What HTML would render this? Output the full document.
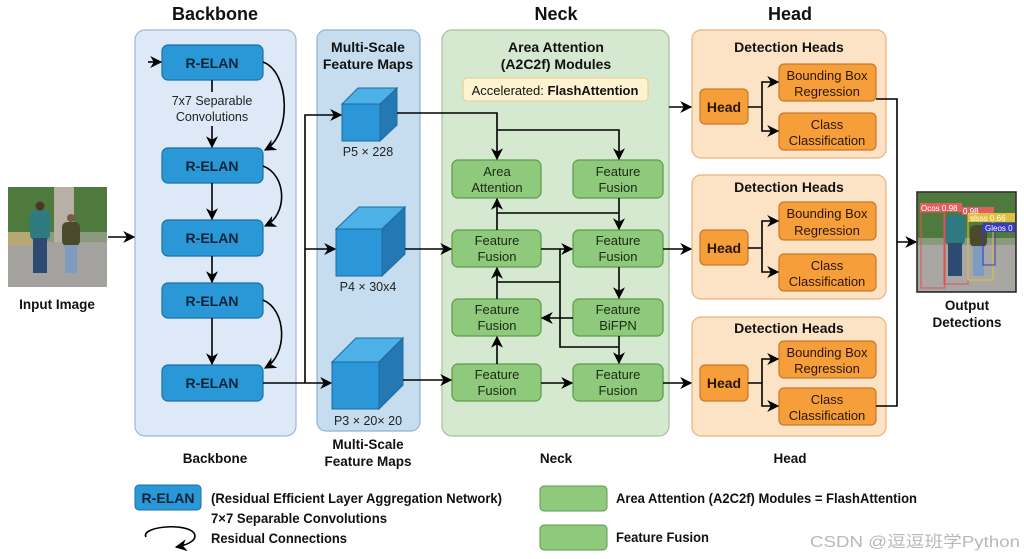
<!DOCTYPE html>
<html><head><meta charset="utf-8"><style>
html,body{margin:0;padding:0;background:#fff;width:1024px;height:559px;overflow:hidden}
svg{display:block}
text{font-family:"Liberation Sans","Noto Sans CJK SC",sans-serif}
</style></head><body>
<svg width="1024" height="559" viewBox="0 0 1024 559" xmlns="http://www.w3.org/2000/svg">
<defs>
<marker id="b" viewBox="0 0 10 10" refX="9" refY="5" markerWidth="12" markerHeight="12" orient="auto" markerUnits="userSpaceOnUse"><path d="M0,0 L10,5 L0,10 L3,5 z" fill="#000"/></marker>
</defs>
<rect width="1024" height="559" fill="#fff"/>
<g font-weight="bold" text-anchor="middle" fill="#111">
<text x="215" y="20" font-size="18">Backbone</text>
<text x="556" y="20" font-size="18">Neck</text>
<text x="790" y="20" font-size="18">Head</text>
</g>
<rect x="135" y="30" width="161" height="406" rx="10" fill="#dde9f6" stroke="#9db7d6" stroke-width="1.2"/>
<rect x="317" y="30" width="103" height="401" rx="9" fill="#c5ddef" stroke="#8fb3d2" stroke-width="1.2"/>
<rect x="442" y="30" width="227" height="406" rx="10" fill="#d5e8d0" stroke="#9fc596" stroke-width="1.2"/>
<rect x="692" y="30" width="194" height="128" rx="9" fill="#fde3c6" stroke="#e8b27a" stroke-width="1.2"/>
<rect x="692" y="175" width="194" height="124" rx="9" fill="#fde3c6" stroke="#e8b27a" stroke-width="1.2"/>
<rect x="692" y="317" width="194" height="119" rx="9" fill="#fde3c6" stroke="#e8b27a" stroke-width="1.2"/>
<g font-weight="bold" text-anchor="middle" fill="#111" font-size="14">
<text x="368" y="52">Multi-Scale</text><text x="368" y="69">Feature Maps</text>
<text x="556" y="52">Area Attention</text><text x="556" y="69">(A2C2f) Modules</text>
<text x="789" y="52">Detection Heads</text>
<text x="789" y="192">Detection Heads</text>
<text x="789" y="333">Detection Heads</text>
</g>
<rect x="463" y="78" width="185" height="23" rx="4" fill="#fdf3d0" stroke="#e6cc86"/>
<text x="555" y="95" text-anchor="middle" font-size="13" fill="#111">Accelerated: <tspan font-weight="bold">FlashAttention</tspan></text>
<g fill="#2a97d6" stroke="#1a6fa6" stroke-width="1.2">
<rect x="162" y="45" width="101" height="35" rx="6"/>
<rect x="162" y="148" width="101" height="35" rx="6"/>
<rect x="162" y="220" width="101" height="36" rx="6"/>
<rect x="162" y="283" width="101" height="35" rx="6"/>
<rect x="162" y="365" width="101" height="36" rx="6"/>
</g>
<g font-weight="bold" text-anchor="middle" fill="#0d2438" font-size="14">
<text x="212" y="68">R-ELAN</text><text x="212" y="171">R-ELAN</text><text x="212" y="243">R-ELAN</text><text x="212" y="306">R-ELAN</text><text x="212" y="388">R-ELAN</text>
</g>
<text x="212" y="105" text-anchor="middle" font-size="12.5" fill="#222">7x7 Separable</text>
<text x="212" y="121" text-anchor="middle" font-size="12.5" fill="#222">Convolutions</text>
<g stroke="#000" stroke-width="1.6" fill="none">
<line x1="212" y1="80" x2="212" y2="92"/>
<line x1="212" y1="126" x2="212" y2="147" marker-end="url(#b)"/>
<line x1="212" y1="183" x2="212" y2="219" marker-end="url(#b)"/>
<line x1="212" y1="256" x2="212" y2="282" marker-end="url(#b)"/>
<line x1="212" y1="318" x2="212" y2="364" marker-end="url(#b)"/>
<path d="M263,62 C290,72 292,135 265,150" marker-end="url(#b)"/>
<path d="M263,166 C287,175 288,215 265,226" marker-end="url(#b)"/>
<path d="M263,300 C287,310 288,355 265,368" marker-end="url(#b)"/>
<line x1="108" y1="237" x2="134" y2="237" marker-end="url(#b)"/>
<line x1="148" y1="62" x2="161" y2="62" marker-end="url(#b)"/>
<polyline points="263,383 331,383" marker-end="url(#b)"/>
<polyline points="305,383 305,115 341,115" marker-end="url(#b)"/>
<line x1="305" y1="249" x2="335" y2="249" marker-end="url(#b)"/>
</g>
<g stroke="#1d6a9c" stroke-width="1">
<polygon points="342,104 358,88 397,88 381,104" fill="#4cb1e6"/>
<polygon points="380,104 397,88 397,125 380,141" fill="#2479b5"/>
<rect x="342" y="104" width="38" height="37" fill="#2b97d8"/>
<polygon points="336,229 359,207 405,207 382,229" fill="#4cb1e6"/>
<polygon points="382,229 405,207 405,254 382,276" fill="#2479b5"/>
<rect x="336" y="229" width="46" height="47" fill="#2b97d8"/>
<polygon points="332,362 356,338 403,338 379,362" fill="#4cb1e6"/>
<polygon points="379,362 403,338 403,385 379,409" fill="#2479b5"/>
<rect x="332" y="362" width="47" height="47" fill="#2b97d8"/>
</g>
<g text-anchor="middle" font-size="12.5" fill="#222">
<text x="368" y="156">P5 × 228</text>
<text x="368" y="291">P4 × 30x4</text>
<text x="368" y="425">P3 × 20× 20</text>
</g>
<g fill="#8fc97c" stroke="#5c9a4c" stroke-width="1.2">
<rect x="452" y="160" width="89" height="38" rx="6"/>
<rect x="573" y="160" width="90" height="38" rx="6"/>
<rect x="452" y="230" width="89" height="37" rx="6"/>
<rect x="573" y="230" width="90" height="37" rx="6"/>
<rect x="452" y="299" width="89" height="37" rx="6"/>
<rect x="573" y="299" width="90" height="37" rx="6"/>
<rect x="452" y="364" width="89" height="37" rx="6"/>
<rect x="573" y="364" width="90" height="37" rx="6"/>
</g>
<g text-anchor="middle" font-size="13" fill="#1a2a14">
<text x="497" y="176">Area</text><text x="497" y="192">Attention</text>
<text x="618" y="176">Feature</text><text x="618" y="192">Fusion</text>
<text x="497" y="245">Feature</text><text x="497" y="261">Fusion</text>
<text x="618" y="245">Feature</text><text x="618" y="261">Fusion</text>
<text x="497" y="314">Feature</text><text x="497" y="330">Fusion</text>
<text x="618" y="314">Feature</text><text x="618" y="330">BiFPN</text>
<text x="497" y="379">Feature</text><text x="497" y="395">Fusion</text>
<text x="618" y="379">Feature</text><text x="618" y="395">Fusion</text>
</g>
<g stroke="#000" stroke-width="1.6" fill="none">
<polyline points="397,113 497,113 497,159" marker-end="url(#b)"/>
<polyline points="497,130 619,130 619,159" marker-end="url(#b)"/>
<line x1="405" y1="249" x2="451" y2="249" marker-end="url(#b)"/>
<line x1="403" y1="380" x2="451" y2="380" marker-end="url(#b)"/>
<line x1="497" y1="230" x2="497" y2="199" marker-end="url(#b)"/>
<line x1="497" y1="213" x2="619" y2="213"/>
<line x1="619" y1="198" x2="619" y2="229" marker-end="url(#b)"/>
<line x1="541" y1="249" x2="572" y2="249" marker-end="url(#b)"/>
<line x1="619" y1="267" x2="619" y2="298" marker-end="url(#b)"/>
<line x1="573" y1="318" x2="542" y2="318" marker-end="url(#b)"/>
<line x1="497" y1="299" x2="497" y2="268" marker-end="url(#b)"/>
<line x1="497" y1="282" x2="560" y2="282"/>
<polyline points="560,249 560,347 619,347"/>
<line x1="619" y1="336" x2="619" y2="363" marker-end="url(#b)"/>
<line x1="497" y1="364" x2="497" y2="337" marker-end="url(#b)"/>
<line x1="541" y1="383" x2="572" y2="383" marker-end="url(#b)"/>
<line x1="669" y1="107" x2="691" y2="107" marker-end="url(#b)"/>
<line x1="663" y1="249" x2="691" y2="249" marker-end="url(#b)"/>
<line x1="663" y1="383" x2="691" y2="383" marker-end="url(#b)"/>
</g>
<g fill="#f59e3a" stroke="#c8782a" stroke-width="1.2">
<rect x="700" y="89" width="48" height="35" rx="5"/>
<rect x="779" y="64" width="97" height="37" rx="5"/>
<rect x="779" y="113" width="97" height="37" rx="5"/>
<rect x="700" y="230" width="48" height="35" rx="5"/>
<rect x="779" y="202" width="97" height="38" rx="5"/>
<rect x="779" y="254" width="97" height="37" rx="5"/>
<rect x="700" y="365" width="48" height="36" rx="5"/>
<rect x="779" y="341" width="97" height="37" rx="5"/>
<rect x="779" y="388" width="97" height="37" rx="5"/>
</g>
<g text-anchor="middle" font-size="13" fill="#2a1605">
<text x="724" y="112" font-weight="bold" font-size="14">Head</text>
<text x="724" y="253" font-weight="bold" font-size="14">Head</text>
<text x="724" y="388" font-weight="bold" font-size="14">Head</text>
<text x="827" y="80">Bounding Box</text><text x="827" y="96">Regression</text>
<text x="827" y="129">Class</text><text x="827" y="145">Classification</text>
<text x="827" y="218">Bounding Box</text><text x="827" y="235">Regression</text>
<text x="827" y="270">Class</text><text x="827" y="286">Classification</text>
<text x="827" y="357">Bounding Box</text><text x="827" y="373">Regression</text>
<text x="827" y="404">Class</text><text x="827" y="420">Classification</text>
</g>
<g stroke="#000" stroke-width="1.6" fill="none">
<polyline points="748,107 762,107 762,82 778,82" marker-end="url(#b)"/>
<polyline points="762,107 762,131 778,131" marker-end="url(#b)"/>
<polyline points="748,248 762,248 762,221 778,221" marker-end="url(#b)"/>
<polyline points="762,248 762,272 778,272" marker-end="url(#b)"/>
<polyline points="748,383 762,383 762,359 778,359" marker-end="url(#b)"/>
<polyline points="762,383 762,406 778,406" marker-end="url(#b)"/>
<polyline points="876,99 897,99 897,406 876,406"/>
<line x1="897" y1="242" x2="916" y2="242" marker-end="url(#b)"/>
</g>
<g>
<rect x="8" y="187" width="99" height="100" fill="#8a9a7e"/>
<rect x="8" y="187" width="99" height="45" fill="#4f7a3e"/>
<rect x="54" y="187" width="20" height="58" fill="#b8b0a4"/>
<rect x="8" y="242" width="99" height="45" fill="#a3a29e"/>
<rect x="8" y="232" width="30" height="14" fill="#b7a774"/>
<rect x="30" y="210" width="20" height="30" rx="5" fill="#2f7a80"/>
<rect x="33" y="238" width="14" height="35" fill="#2d4a72"/>
<circle cx="40" cy="206" r="4.5" fill="#4a3526"/>
<rect x="62" y="222" width="18" height="24" rx="5" fill="#4b4a2c"/>
<rect x="65" y="245" width="12" height="28" fill="#7e9bc0"/>
<circle cx="71" cy="218" r="4" fill="#7a5a44"/>
</g>
<text x="57" y="309" text-anchor="middle" font-weight="bold" font-size="13.5" fill="#111">Input Image</text>
<g>
<rect x="917" y="192" width="99" height="100" fill="#8a9a7e" stroke="#222" stroke-width="1.5"/>
<rect x="918" y="193" width="97" height="45" fill="#4f7a3e"/>
<rect x="918" y="245" width="97" height="46" fill="#a8a7a3"/>
<rect x="945" y="215" width="20" height="30" rx="5" fill="#2f7a80"/>
<rect x="948" y="243" width="14" height="33" fill="#2d4a72"/>
<rect x="970" y="225" width="17" height="22" rx="5" fill="#4b4a2c"/>
<rect x="973" y="246" width="11" height="30" fill="#7e9bc0"/>
<g fill="none" stroke-width="1"><rect x="921" y="212" width="24" height="76" stroke="#e05050"/><rect x="944" y="210" width="24" height="74" stroke="#e05050"/><rect x="968" y="212" width="25" height="68" stroke="#e0c040"/><rect x="983" y="225" width="12" height="40" stroke="#3040c0"/></g>
<rect x="920" y="203" width="42" height="9" fill="#e06060"/><rect x="962" y="207" width="32" height="8" fill="#e06060"/>
<rect x="968" y="213" width="47" height="9" fill="#e0c040"/><rect x="983" y="223" width="32" height="9" fill="#3a3ac0"/>
<g font-size="8" fill="#fff"><text x="921" y="211">Ocos 0.98</text><text x="963" y="214">0.98</text><text x="970" y="221">slsss 0.66</text><text x="985" y="231">Gleos 0</text></g>
</g>
<g text-anchor="middle" font-weight="bold" font-size="13.5" fill="#111"><text x="967" y="310">Output</text><text x="967" y="327">Detections</text></g>
<g text-anchor="middle" font-weight="bold" font-size="13.5" fill="#111">
<text x="215" y="463">Backbone</text>
<text x="368" y="449">Multi-Scale</text><text x="368" y="466">Feature Maps</text>
<text x="556" y="463">Neck</text>
<text x="790" y="463">Head</text>
</g>
<rect x="135" y="485" width="66" height="25" rx="4" fill="#2a97d6" stroke="#1a6fa6"/>
<text x="168" y="503" text-anchor="middle" font-weight="bold" font-size="14" fill="#0d2438">R-ELAN</text>
<g font-weight="bold" font-size="14" fill="#111">
<text x="211" y="503" textLength="291" lengthAdjust="spacingAndGlyphs">(Residual Efficient Layer Aggregation Network)</text>
<text x="211" y="523" textLength="176" lengthAdjust="spacingAndGlyphs">7×7 Separable Convolutions</text>
<text x="211" y="543" textLength="136" lengthAdjust="spacingAndGlyphs">Residual Connections</text>
<text x="616" y="503" textLength="301" lengthAdjust="spacingAndGlyphs">Area Attention (A2C2f) Modules = FlashAttention</text>
<text x="616" y="542" textLength="93" lengthAdjust="spacingAndGlyphs">Feature Fusion</text>
</g>
<path d="M146,537 C140,527 185,522 194,533 C198,540 188,545 176,547" fill="none" stroke="#000" stroke-width="1.6" marker-end="url(#b)"/>
<rect x="540" y="486" width="67" height="25" rx="4" fill="#8fc97c" stroke="#5c9a4c"/>
<rect x="540" y="525" width="67" height="25" rx="4" fill="#8fc97c" stroke="#5c9a4c"/>
<text x="810" y="547" font-size="16" fill="#b8b8b8" textLength="210" lengthAdjust="spacingAndGlyphs">CSDN @逗逗班学Python</text>
</svg>
</body></html>
